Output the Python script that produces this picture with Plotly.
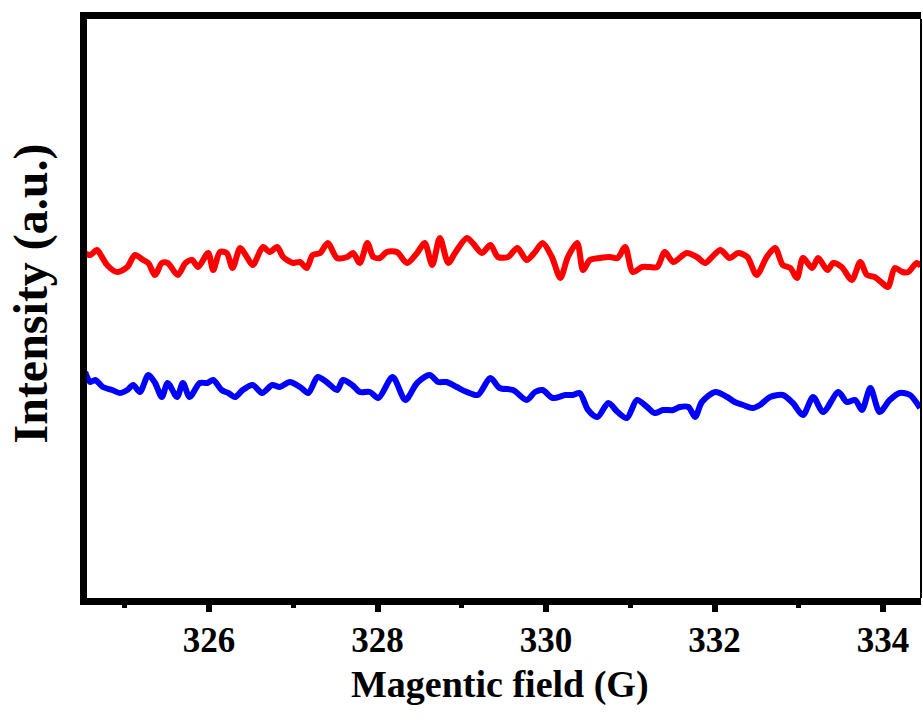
import plotly.graph_objects as go

# Magnetic field (G) and intensity (a.u.)
field_red = [324.50, 324.59, 324.67, 324.73, 324.79, 324.91, 325.03, 325.12, 325.22, 325.28,
             325.36, 325.44, 325.51, 325.63, 325.72, 325.80, 325.87, 325.99, 326.05, 326.13,
             326.21, 326.28, 326.37, 326.45, 326.52, 326.64, 326.72, 326.81, 326.88, 327.00,
             327.08, 327.16, 327.23, 327.32, 327.41, 327.52, 327.64, 327.71, 327.79, 327.88,
             327.95, 328.03, 328.11, 328.23, 328.35, 328.47, 328.56, 328.65, 328.74, 328.84,
             328.92, 329.06, 329.13, 329.24, 329.34, 329.43, 329.55, 329.66, 329.77, 329.87,
             329.96, 330.07, 330.17, 330.26, 330.37, 330.44, 330.52, 330.64, 330.76, 330.85,
             330.94, 331.03, 331.14, 331.23, 331.32, 331.41, 331.51, 331.67, 331.79, 331.89,
             331.97, 332.07, 332.18, 332.28, 332.39, 332.50, 332.62, 332.72, 332.81, 332.90,
             332.98, 333.05, 333.16, 333.23, 333.34, 333.41, 333.51, 333.63, 333.73, 333.81,
             333.90, 333.99, 334.06, 334.14, 334.23, 334.30, 334.40, 334.45]
int_red = [3.50, 3.47, 3.52, 3.45, 3.37, 3.30, 3.35, 3.47, 3.42, 3.39,
           3.27, 3.39, 3.39, 3.27, 3.39, 3.42, 3.35, 3.49, 3.32, 3.50,
           3.49, 3.34, 3.54, 3.45, 3.37, 3.55, 3.50, 3.55, 3.45, 3.39,
           3.40, 3.34, 3.47, 3.49, 3.59, 3.44, 3.45, 3.49, 3.39, 3.59,
           3.45, 3.44, 3.50, 3.50, 3.39, 3.49, 3.59, 3.37, 3.64, 3.39,
           3.49, 3.64, 3.59, 3.49, 3.57, 3.45, 3.45, 3.54, 3.42, 3.50,
           3.59, 3.45, 3.24, 3.45, 3.59, 3.32, 3.42, 3.44, 3.45, 3.44,
           3.55, 3.30, 3.35, 3.35, 3.35, 3.50, 3.40, 3.49, 3.45, 3.39,
           3.45, 3.52, 3.44, 3.49, 3.45, 3.27, 3.45, 3.54, 3.37, 3.34,
           3.24, 3.44, 3.34, 3.44, 3.32, 3.39, 3.35, 3.22, 3.40, 3.27,
           3.25, 3.19, 3.15, 3.34, 3.30, 3.30, 3.39, 3.36]

field_blue = [324.53, 324.59, 324.65, 324.74, 324.85, 324.94, 325.03, 325.10, 325.18, 325.28,
              325.36, 325.44, 325.51, 325.62, 325.69, 325.77, 325.89, 325.98, 326.05, 326.15,
              326.23, 326.31, 326.40, 326.52, 326.63, 326.75, 326.84, 326.96, 327.08, 327.18,
              327.29, 327.41, 327.52, 327.59, 327.70, 327.79, 327.91, 328.01, 328.18, 328.33,
              328.47, 328.62, 328.72, 328.82, 328.94, 329.06, 329.19, 329.34, 329.45, 329.61,
              329.77, 329.87, 329.96, 330.08, 330.23, 330.32, 330.40, 330.50, 330.61, 330.74,
              330.85, 330.96, 331.08, 331.20, 331.29, 331.39, 331.51, 331.59, 331.69, 331.77,
              331.85, 332.01, 332.15, 332.24, 332.34, 332.45, 332.54, 332.66, 332.81, 332.93,
              333.05, 333.17, 333.29, 333.47, 333.57, 333.67, 333.75, 333.85, 333.96, 334.08,
              334.20, 334.32, 334.44]
int_blue = [2.30, 2.20, 2.22, 2.15, 2.12, 2.09, 2.12, 2.17, 2.10, 2.27,
            2.19, 2.05, 2.19, 2.05, 2.19, 2.05, 2.19, 2.19, 2.22, 2.12,
            2.09, 2.05, 2.12, 2.17, 2.09, 2.17, 2.15, 2.20, 2.15, 2.09,
            2.25, 2.19, 2.12, 2.22, 2.17, 2.10, 2.10, 2.04, 2.25, 2.02,
            2.19, 2.27, 2.20, 2.20, 2.15, 2.10, 2.07, 2.24, 2.14, 2.12,
            2.02, 2.10, 2.12, 2.04, 2.07, 2.07, 2.09, 1.92, 1.85, 1.99,
            1.90, 1.84, 2.02, 1.95, 1.89, 1.92, 1.92, 1.95, 1.95, 1.85,
            2.00, 2.10, 2.05, 2.00, 1.97, 1.94, 1.97, 2.05, 2.07, 1.99,
            1.87, 2.05, 1.90, 2.10, 2.00, 2.02, 1.92, 2.14, 1.90, 2.02,
            2.09, 2.07, 1.94]

tick_vals = [326, 328, 330, 332, 334]
x_title = "Magentic field (G)"
y_title = "Intensity (a.u.)"

FONT = "Liberation Serif, Times New Roman, serif"

fig = go.Figure()
fig.add_trace(go.Scatter(x=field_red, y=int_red, mode="lines",
                         line=dict(color="#ff0000", width=6, shape="spline", smoothing=0.8),
                         showlegend=False))
fig.add_trace(go.Scatter(x=field_blue, y=int_blue, mode="lines",
                         line=dict(color="#0000ff", width=6, shape="spline", smoothing=0.8),
                         showlegend=False))

fig.update_layout(
    width=923, height=722,
    margin=dict(l=87, r=2, t=19, b=124),
    paper_bgcolor="white", plot_bgcolor="white",
    showlegend=False,
    xaxis=dict(
        range=[324.552, 334.451],
        showgrid=False, zeroline=False,
        showline=True, linewidth=7, linecolor="black", mirror=True,
        tickmode="array", tickvals=tick_vals,
        ticks="outside", ticklen=7, tickwidth=6, tickcolor="black",
        ticklabelstandoff=-2,
        minor=dict(ticks="outside", ticklen=3, tickwidth=5, tickcolor="black", dtick=1, tick0=325),
        tickfont=dict(family=FONT, size=35, color="black", weight="bold"),
    ),
    yaxis=dict(
        range=[0.04, 5.83],
        showgrid=False, zeroline=False,
        showline=True, linewidth=7, linecolor="black", mirror=False,
        showticklabels=False, ticks="",
    ),
    shapes=[dict(type="line", xref="paper", yref="paper", x0=1, x1=1, y0=0, y1=1,
                 line=dict(color="black", width=2))],
    annotations=[
        dict(text=x_title, xref="paper", yref="paper", x=0.495, y=-0.150,
             xanchor="center", yanchor="middle", showarrow=False,
             font=dict(family=FONT, size=38, color="black", weight="bold")),
        dict(text=y_title, xref="paper", yref="paper", x=-0.0671, y=0.526,
             xanchor="center", yanchor="middle", showarrow=False, textangle=-90,
             font=dict(family=FONT, size=48, color="black", weight="bold")),
    ],
)

fig.write_html("out.html")
